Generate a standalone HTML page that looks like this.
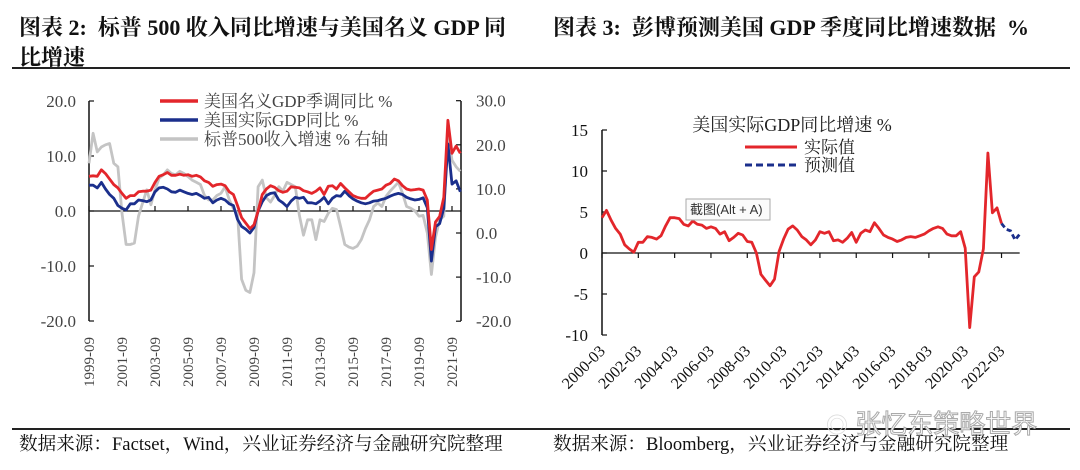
<!DOCTYPE html>
<html><head><meta charset="utf-8">
<style>
body{margin:0;background:#fff;}
#wrap{position:relative;width:1080px;height:470px;overflow:hidden;background:#fff;font-family:"Liberation Serif","Noto Serif CJK SC",serif;}
.t{position:absolute;font-weight:bold;font-size:22px;color:#111;white-space:nowrap;}
.src{position:absolute;font-size:18.6px;color:#111;white-space:nowrap;}
svg text{font-family:"Liberation Serif","Noto Serif CJK SC",serif;}
</style></head><body>
<div id="wrap">
<div class="t" style="left:19px;top:11px;">图表 2:&nbsp; 标普 500 收入同比增速与美国名义 GDP 同</div>
<div class="t" style="left:19px;top:41px;">比增速</div>
<div class="t" style="left:553px;top:11px;">图表 3:&nbsp; 彭博预测美国 GDP 季度同比增速数据&nbsp; %</div>
<div style="position:absolute;left:12px;top:67px;width:1058px;height:2px;background:#222;"></div>
<div style="position:absolute;left:12px;top:428px;width:1058px;height:2px;background:#222;"></div>
<div class="src" style="left:19px;top:430px;">数据来源：Factset，Wind，兴业证券经济与金融研究院整理</div>
<div class="src" style="left:553px;top:430px;">数据来源：Bloomberg，兴业证券经济与金融研究院整理</div>
<div style="position:absolute;left:826px;top:404px;font-family:'Liberation Sans','Noto Sans CJK SC',sans-serif;font-size:26px;color:#fff;-webkit-text-stroke:1px #aaa;white-space:nowrap;"><span style="font-size:22px;color:#ddd;-webkit-text-stroke:0;">◎</span> 张忆东策略世界</div>
<svg id="c2" width="540" height="430" style="position:absolute;left:0;top:0"></svg>
<svg id="c3" width="540" height="430" style="position:absolute;left:540px;top:0"></svg>
</div>
<script>
// ---- Chart 2 data (quarterly from 1999Q3) ----
const c2Labels = ["1999-09","2001-09","2003-09","2005-09","2007-09","2009-09","2011-09","2013-09","2015-09","2017-09","2019-09","2021-09"];
const c2LeftTicks = [20,10,0,-10,-20];
const c2RightTicks = [30,20,10,0,-10,-20];
const nominalGDP = [6.3,6.4, 6.3,7.5,6.8,5.8, 4.8,4.2,3.2,2.3, 2.8,2.8,3.5,3.6, 3.6,3.8,5.2,6.3, 6.6,7.0,6.5,6.5, 6.7,6.5,6.6,6.3, 6.5,6.2,5.5,5.2, 4.5,4.8,4.9,4.6, 3.5,3.0,1.0,-1.2, -2.2,-3.2,-2.5,0.0, 3.0,4.0,4.6,4.3, 3.7,3.4,3.6,4.4, 4.3,4.2,3.7,3.5, 3.2,3.6,4.2,3.0, 4.5,4.6,4.0,5.0, 4.2,3.5,2.8,2.5, 2.3,2.3,3.0,3.6, 3.8,4.0,4.7,5.0, 5.8,5.5,4.6,4.0, 3.8,3.9,4.0,3.8, 2.0,-7.0,-2.0,-1.0, 2.5,16.5,10.5,11.8, 10.5];
const realGDP = [4.7,4.7, 4.2,5.2,4.0,3.0, 2.3,1.0,0.5,0.2, 1.3,1.3,2.0,1.9, 1.7,2.0,3.5,4.2, 4.3,4.0,3.5,3.4, 3.8,3.5,3.2,3.0, 3.2,2.8,2.3,2.5, 1.5,2.0,2.3,2.0, 1.3,1.0,-1.5,-2.8, -3.3,-4.0,-3.0,0.0, 1.7,2.8,3.2,3.3, 2.0,1.5,0.8,1.8, 2.5,2.3,2.5,1.5, 1.5,1.3,1.8,2.5, 1.3,2.3,2.8,2.7, 3.6,2.8,2.2,1.8, 1.5,1.3,1.5,1.8, 1.9,2.1,2.3,2.7, 3.0,3.2,3.0,2.5, 2.2,2.0,2.1,2.4, 0.6,-9.1,-2.9,-2.3, 0.5,12.2,4.9,5.5, 3.5];
const spRevenue = [15.8,22.6, 18.4,19.5,20,20.3, 15.8,15,4.5,-2.6, -2.6,-2.3,3.8,6.8, 9.8,6.4,9.8,12.4, 13.2,14.3,13.5,13.2, 14,13.5,12.8,12, 11.5,11,8.5,7.5, 7.5,8.5,9,10.5, 7.5,5.5,4.5,-10.5, -13,-13.5,-9,10.5, 12,8,7,8.5, 10.5,9.5,11.5,11, 10.5,4,-0.5,3, 3,-1.5,3,2.6, 4.5,5.6,5.3,1.5, -2.6,-3.2,-3.5,-3, -1.5,1,3,6, 6.8,6,8.3,9.5, 10.5,11.5,9,6, 5.6,5,3.8,4, 0,-9.4,-1,3, 3.8,23.3,16.5,15, 14];
// ---- Chart 3 data (quarterly from 2000Q1) ----
const c3Labels = ["2000-03","2002-03","2004-03","2006-03","2008-03","2010-03","2012-03","2014-03","2016-03","2018-03","2020-03","2022-03"];
const c3Ticks = [15,10,5,0,-5,-10];
const actualGDP = [4.3,5.2,4.0,3.0, 2.3,1.0,0.5,0.1, 1.3,1.3,2.0,1.9, 1.7,2.1,3.3,4.3, 4.3,4.2,3.5,3.3, 3.9,3.5,3.4,3.0, 3.2,3.0,2.3,2.6, 1.5,1.9,2.4,2.2, 1.4,1.3,0.0,-2.6, -3.3,-4.0,-3.2,0.2, 1.7,2.9,3.3,2.8, 2.0,1.6,1.0,1.6, 2.6,2.4,2.6,1.5, 1.6,1.3,1.8,2.5, 1.3,2.4,2.8,2.6, 3.7,3.0,2.2,1.9, 1.7,1.4,1.6,1.9, 2.0,1.9,2.1,2.3, 2.7,3.0,3.2,3.0, 2.3,2.1,2.1,2.6, 0.6,-9.1,-2.9,-2.3, 0.5,12.2,4.9,5.5, 3.6];
const forecastGDP = [3.6,2.9,2.7,1.6,2.3];
const forecastStart = 88;

const NS='http://www.w3.org/2000/svg';
function mk(svg,tag,attrs,text){const e=document.createElementNS(NS,tag);for(const k in attrs)e.setAttribute(k,attrs[k]);if(text!==undefined)e.textContent=text;svg.appendChild(e);return e;}
function pathFrom(vals,xf,yf,off){return vals.map((v,i)=>(i?'L':'M')+xf(i+(off||0)).toFixed(1)+','+yf(v).toFixed(1)).join(' ');}

// ---- Chart 2 ----
(function(){
const s=document.getElementById('c2');
const X0=89, XR=461;
const x=i=>X0+i*4.125;
const yL=v=>211-v*5.5;
const yR=v=>233-v*4.41;
const axL=mk(s,'line',{x1:X0,y1:101,x2:X0,y2:321,stroke:'#111','stroke-width':1.5});

const axR=mk(s,'line',{x1:XR,y1:101,x2:XR,y2:321,stroke:'#111','stroke-width':1.5});

c2LeftTicks.forEach(v=>{mk(s,'line',{x1:X0,x2:X0+5,y1:yL(v),y2:yL(v),stroke:'#111','stroke-width':1.2});
 const t=mk(s,'text',{x:76,y:yL(v)+6,'text-anchor':'end','font-size':17,fill:'#444'},v.toFixed(1));
 });
c2RightTicks.forEach(v=>{mk(s,'line',{x1:XR-5,x2:XR,y1:yR(v),y2:yR(v),stroke:'#111','stroke-width':1.2});
 const t=mk(s,'text',{x:476,y:yR(v)+6,'font-size':17,fill:'#444'},v.toFixed(1));
 });
const xa=mk(s,'line',{x1:X0,y1:211,x2:XR,y2:211,stroke:'#111','stroke-width':1.2});

c2Labels.forEach((l,k)=>{const xx=x(k*8);mk(s,'line',{x1:xx,x2:xx,y1:206,y2:211,stroke:'#111','stroke-width':1.2});
 const t=mk(s,'text',{x:0,y:0,'text-anchor':'end','font-size':15,fill:'#444',transform:`translate(${xx+5},337) rotate(-90)`},l);
 });
const g=mk(s,'path',{d:pathFrom(spRevenue,x,yR),fill:'none',stroke:'#c4c4c4','stroke-width':2.8,'stroke-linejoin':'round'});

const b=mk(s,'path',{d:pathFrom(realGDP,x,yL),fill:'none',stroke:'#1b2f8c','stroke-width':2.8,'stroke-linejoin':'round'});

const r=mk(s,'path',{d:pathFrom(nominalGDP,x,yL),fill:'none',stroke:'#e3262b','stroke-width':2.8,'stroke-linejoin':'round'});

[['#e3262b','美国名义GDP季调同比 %',101],['#1b2f8c','美国实际GDP同比 %',120],['#c4c4c4','标普500收入增速 % 右轴',139]].forEach(([c,t,yy])=>{
 mk(s,'line',{x1:160,x2:198,y1:yy,y2:yy,stroke:c,'stroke-width':3.5});
 const e=mk(s,'text',{x:204,y:yy+6,'font-size':17,fill:'#444'},t);
 });
})();

// ---- Chart 3 ----
(function(){
const s=document.getElementById('c3');
const X0=62;
const x=i=>X0+i*4.54;
const y=v=>253-v*8.2;
const ax=mk(s,'line',{x1:X0,y1:130,x2:X0,y2:335,stroke:'#111','stroke-width':1.5});

c3Ticks.forEach(v=>{mk(s,'line',{x1:X0,x2:X0+5,y1:y(v),y2:y(v),stroke:'#111','stroke-width':1.2});
 const t=mk(s,'text',{x:48,y:y(v)+6,'text-anchor':'end','font-size':17,fill:'#111'},String(v));
 });
const xa=mk(s,'line',{x1:X0,y1:253,x2:X0+92*4.54,y2:253,stroke:'#111','stroke-width':1.2});

c3Labels.forEach((l,k)=>{const xx=x(k*8);mk(s,'line',{x1:xx,x2:xx,y1:253,y2:258,stroke:'#111','stroke-width':1.2});
 const t=mk(s,'text',{x:0,y:0,'text-anchor':'end','font-size':16,fill:'#111',transform:`translate(${xx+4},352) rotate(-45)`},l);
 });
const r=mk(s,'path',{d:pathFrom(actualGDP,x,y),fill:'none',stroke:'#e3262b','stroke-width':2.8,'stroke-linejoin':'round'});

const f=mk(s,'path',{d:pathFrom(forecastGDP,x,y,forecastStart),fill:'none',stroke:'#1b2f8c','stroke-width':2.8,'stroke-dasharray':'5,3'});

const ti=mk(s,'text',{x:252,y:131,'text-anchor':'middle','font-size':18,fill:'#222'},'美国实际GDP同比增速 %');

mk(s,'line',{x1:205,x2:257,y1:147,y2:147,stroke:'#e3262b','stroke-width':3});
const l1=mk(s,'text',{x:264,y:153,'font-size':17,fill:'#222'},'实际值');

mk(s,'line',{x1:205,x2:257,y1:165,y2:165,stroke:'#1b2f8c','stroke-width':3,'stroke-dasharray':'7,4'});
const l2=mk(s,'text',{x:264,y:171,'font-size':17,fill:'#222'},'预测值');

mk(s,'rect',{x:146,y:199,width:84,height:21,fill:'#fbfbfb',stroke:'#aaa','stroke-width':1});
const tt=mk(s,'text',{x:150,y:214,'font-size':13,fill:'#333',style:"font-family:'Liberation Sans','Noto Sans CJK SC',sans-serif"},'截图(Alt + A)');

})();
</script>
</body></html>
